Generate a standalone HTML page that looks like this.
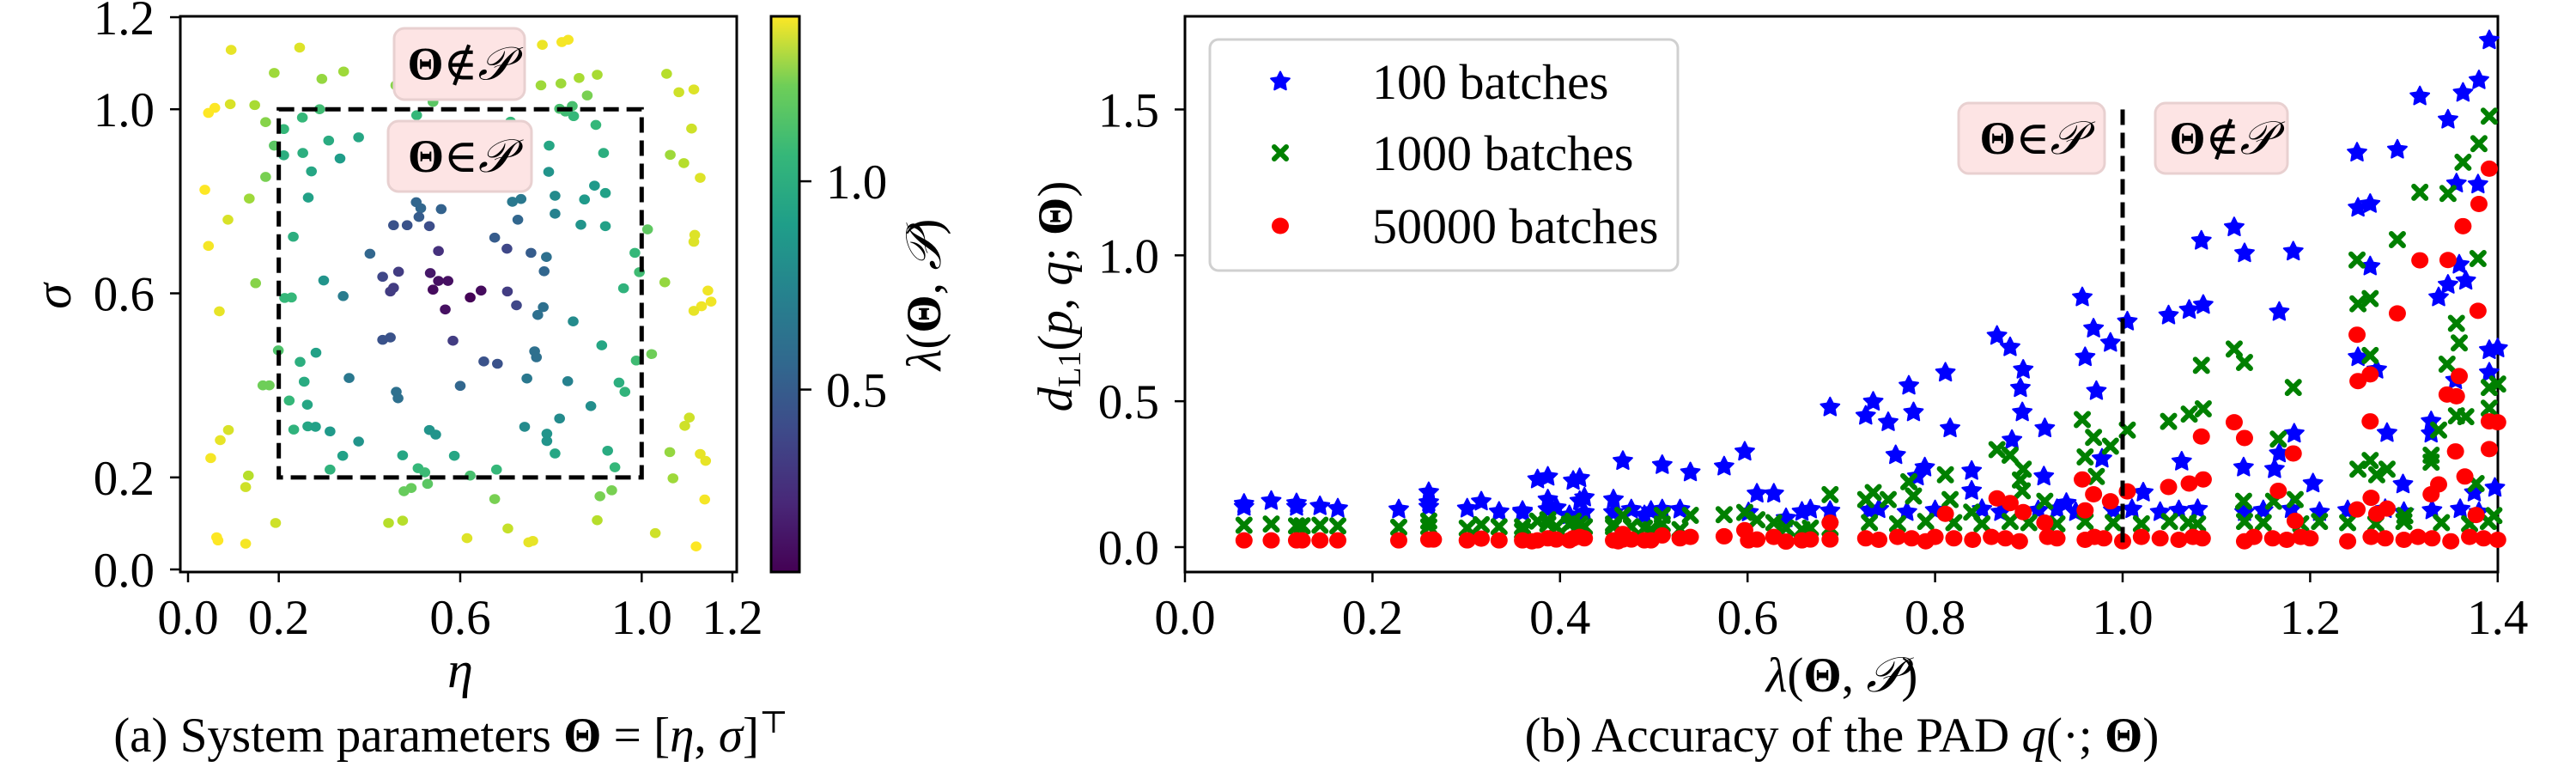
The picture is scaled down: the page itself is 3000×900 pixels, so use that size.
<!DOCTYPE html>
<html><head><meta charset="utf-8"><style>
html,body{margin:0;padding:0;background:#fff;}
svg{display:block;font-family:"Liberation Serif","DejaVu Serif",serif;}
</style></head><body>
<svg id="fig" width="3000" height="900" viewBox="0 0 3000 900" xmlns="http://www.w3.org/2000/svg">
<defs>
<linearGradient id="vir" x1="0" y1="1" x2="0" y2="0">
<stop offset="0" stop-color="#440154"/><stop offset="0.125" stop-color="#482878"/><stop offset="0.25" stop-color="#3e4989"/><stop offset="0.375" stop-color="#31688e"/><stop offset="0.5" stop-color="#26828e"/><stop offset="0.625" stop-color="#1f9e89"/><stop offset="0.75" stop-color="#35b779"/><stop offset="0.875" stop-color="#6ece58"/><stop offset="1" stop-color="#fde725"/>
</linearGradient>
</defs>
<g id="left"></g>
<g id="right"></g>
</svg>
<script>
// ---------- Left panel data ----------
const etaVals = [.095,.246,.19,.295,.343,.576,.648,.458,.54,.781,.824,.838,.778,.822,.862,.902,.88,1.055,1.082,1.115,1.11,1.063,1.093,1.129,1.013,1.117,1.115,1.051,1.146,1.153,1.132,1.115,1.022,1.105,1.095,1.062,1.129,1.141,1.069,1.139,1.03,1.12,.934,.908,.902,.751,.76,.705,.676,.615,.476,.492,.528,.442,.473,.622,.193,.127,.063,.066,.127,.133,.05,.071,.089,.069,.149,.045,.088,.135,.171,.037,.093,.045,.059,.147,.171,.19,.165,.179,.199,
.211,.211,.252,.29,.253,.272,.31,.335,.376,.265,.232,.299,.342,.213,.228,.247,.282,.256,.223,.263,.233,.264,.281,.313,.355,.376,.341,.313,.401,.429,.464,.446,.453,.453,.483,.503,.513,.509,.532,.558,.552,.534,.54,.552,.573,.567,.622,.646,.584,.429,.446,.459,.463,.6,.652,.682,.59,.629,.629,.676,.703,.704,.724,.727,.715,.734,.756,.79,.785,.783,.771,.764,.768,.747,.837,.849,.809,.809,.795,.796,.874,.896,.866,.92,.92,.916,.899,.85,.832,.847,.819,.711,.504,.985,.995,.96,.912,.988,.95,.963,.888,.819,.791,.791,.809,.742,.925,.941,.68,.587,.532,.546,.473,.507,.522];
const sigmaVals = [1.129,1.134,1.079,1.066,1.082,1.146,1.132,1.052,1.016,1.14,1.146,1.151,1.052,1.056,1.068,1.075,1.03,1.077,1.037,1.043,.958,.901,.883,.851,.739,.727,.712,.624,.606,.582,.572,.562,.468,.33,.312,.255,.251,.236,.198,.152,.079,.05,.172,.159,.107,.059,.062,.089,.153,.068,.17,.177,.186,.101,.106,.204,.101,.056,.07,.063,.179,.204,.242,.281,.303,.561,.622,.703,.76,.806,.853,.825,1.011,.992,1.003,1.009,.972,.921,.4,.4,.476,
.957,.9,.982,1.0,.905,.865,.932,.893,.939,.808,.723,.628,.594,.59,.591,.451,.471,.408,.367,.358,.304,.311,.31,.3,.416,.278,.247,.217,.686,.636,.647,.604,.612,.748,.748,.798,.785,.766,.746,.783,.692,.644,.608,.627,.627,.565,.591,.606,.497,.499,.504,.386,.372,.399,.452,.447,.892,.865,.84,.721,.697,.604,.574,.76,.799,.805,.688,.679,.648,.57,.553,.474,.461,.415,.409,.539,.812,.773,.864,.921,.804,.834,.749,.818,.746,.905,.966,.985,.995,1.007,1.001,.973,.987,.688,.646,.611,.487,.454,.406,.386,.355,.328,.295,.279,.252,.31,.258,.222,.217,.247,.303,.293,.248,.22,.211];
const lamVals = [1.35,1.33,1.2,1.18,1.2,1.37,1.35,1.15,1.05,1.36,1.38,1.38,1.2,1.2,1.22,1.22,1.12,1.25,1.3,1.33,1.3,1.2,1.25,1.33,1.06,1.33,1.33,1.18,1.37,1.37,1.37,1.35,1.1,1.3,1.3,1.18,1.35,1.35,1.2,1.38,1.3,1.4,1.12,1.12,1.25,1.35,1.35,1.28,1.12,1.33,1.08,1.08,1.05,1.25,1.25,1.0,1.3,1.38,1.4,1.4,1.3,1.25,1.38,1.35,1.32,1.35,1.15,1.38,1.32,1.2,1.12,1.4,1.32,1.4,1.4,1.22,1.15,1.05,1.1,1.1,1.02,
.95,.9,.95,.98,.9,.85,.88,.8,.85,.82,.9,.75,.62,.95,.95,.9,.82,.88,.95,.85,.92,.85,.82,.78,.6,.75,.82,.92,.5,.35,.3,.3,.3,.4,.4,.5,.5,.45,.38,.48,.25,.15,.1,.12,.12,.12,.07,.1,.3,.4,.4,.55,.55,.5,.4,.4,.8,.65,.65,.45,.35,.3,.35,.5,.6,.6,.45,.55,.5,.55,.55,.55,.55,.6,.65,.7,.7,.65,.75,.85,.78,.78,.75,.82,.82,.9,.95,.95,.98,1.0,1.0,.95,.95,.95,.98,.92,.85,.98,.9,.93,.72,.7,.75,.75,.85,.7,.88,.95,.95,.85,.75,.75,.85,.95,.97];
const leftTicks = [0.0, 0.2, 0.6, 1.0, 1.2];
const leftTickLabels = ["0.0","0.2","0.6","1.0","1.2"];
const cbarTicks = [0.5, 1.0];
const cbarTickLabels = ["0.5","1.0"];

// ---------- Right panel data ----------
const blueLam = [.063,.063,.092,.119,.119,.144,.163,.228,.260,.260,.260,.301,.316,.335,.360,.360,.376,.387,.387,.387,.396,.410,.414,.421,.421,.426,.426,.457,.457,.467,.476,.490,.497,.509,.509,.528,.539,.575,.597,.601,.610,.628,.641,.658,.667,.688,.688,
.726,.734,.750,.758,.772,.777,.781,.789,.811,.816,.839,.839,.866,.880,.882,.894,.891,.893,.917,.916,.940,.957,.960,.969,.987,.972,.978,1.005,1.022,1.049,1.071,1.086,1.084,1.119,1.130,1.182,1.167,1.063,1.129,1.162,1.167,1.183,1.203,1.250,1.293,1.251,1.264,1.264,1.251,1.271,1.282,1.299,1.317,1.347,1.363,1.380,1.391,1.356,1.379,1.359,1.347,1.366,1.337,1.329,1.329,1.391,1.400,1.391,1.397,1.375,1.355,
.73,.74,.77,.80,.85,.87,.91,.93,.95,.99,1.01,1.04,1.06,1.08,1.13,1.15,1.18,1.21,1.24,1.28,1.30,1.33,1.36,1.38];
const blueD = [.148,.138,.158,.138,.150,.140,.132,.129,.138,.188,.153,.132,.156,.121,.124,.119,.232,.241,.163,.129,.135,.109,.227,.236,.158,.170,.119,.163,.119,.295,.129,.109,.124,.281,.129,.129,.256,.276,.327,.119,.183,.183,.099,.121,.129,.479,.124,
.450,.498,.428,.315,.553,.462,.242,.273,.598,.407,.261,.193,.724,.685,.367,.608,.545,.462,.407,.242,.151,.856,.651,.749,.700,.535,.303,.773,.187,.794,.813,.830,1.050,1.096,1.007,1.013,.806,.293,.273,.267,.321,.389,.218,1.352,1.362,1.163,1.176,.962,.651,.608,.391,.215,1.545,1.465,1.557,1.600,1.737,1.246,1.243,.968,.899,.913,.856,.431,.389,.675,.681,.598,.203,.187,.572,
.126,.13,.12,.126,.13,.12,.126,.13,.12,.126,.13,.12,.126,.13,.12,.126,.13,.12,.126,.13,.12,.126,.13,.12];
const greenLam = [.063,.092,.119,.125,.144,.163,.228,.260,.260,.301,.316,.335,.360,.360,.376,.387,.387,.396,.410,.414,.421,.426,.457,.457,.467,.476,.490,.497,.509,.509,.528,.539,.575,.597,.610,.628,.641,.658,.667,.688,.688,
.726,.734,.750,.772,.777,.811,.816,.839,.866,.880,.894,.891,.893,.917,.957,.969,.987,.960,.972,1.005,1.049,1.071,1.086,1.084,1.119,1.130,1.182,1.166,1.184,1.129,1.161,1.250,1.293,1.317,1.347,1.363,1.380,1.391,1.379,1.251,1.264,1.356,1.359,1.264,1.346,1.391,1.400,1.391,1.356,1.366,1.337,1.329,1.329,1.251,1.264,1.271,1.282,1.377,1.301,1.396,
.73,.76,.79,.82,.85,.88,.90,.93,.96,.99,1.02,1.05,1.07,1.08,1.13,1.15,1.19,1.21,1.24,1.27,1.30,1.34,1.37,1.39];
const greenD = [.075,.079,.073,.073,.075,.073,.068,.070,.089,.065,.077,.070,.070,.055,.089,.079,.094,.070,.079,.089,.079,.070,.070,.079,.109,.070,.065,.060,.109,.079,.060,.109,.111,.119,.094,.084,.065,.060,.065,.180,.065,
.163,.187,.163,.224,.175,.248,.163,.120,.334,.315,.267,.230,.193,.157,.437,.376,.346,.309,.242,.401,.431,.456,.474,.623,.679,.633,.547,.370,.163,.157,.157,.984,1.054,1.216,1.212,1.319,1.383,1.477,.989,.834,.852,.767,.700,.657,.627,.547,.559,.476,.450,.447,.401,.315,.291,.267,.297,.248,.267,.218,.108,.108,
.084,.08,.088,.084,.08,.088,.084,.08,.088,.084,.08,.088,.084,.08,.088,.084,.08,.088,.084,.08,.088,.084,.08,.088];
const redLam = [.063,.092,.119,.125,.144,.163,.228,.260,.265,.301,.316,.335,.360,.370,.376,.387,.396,.410,.414,.421,.426,.457,.462,.467,.467,.476,.490,.497,.509,.528,.539,.575,.597,.601,.610,.628,.641,.658,.667,.688,.688,
.811,.866,.880,.894,.917,.957,.969,.987,.960,1.005,1.049,1.071,1.086,1.084,1.119,1.130,1.182,1.166,1.184,1.250,1.293,1.317,1.347,1.363,1.380,1.391,1.379,1.251,1.264,1.359,1.346,1.356,1.264,1.355,1.391,1.400,1.391,1.365,1.337,1.329,1.265,1.250,1.271,1.282,1.377,
.726,.74,.76,.775,.79,.80,.82,.84,.86,.875,.89,.92,.93,.96,.97,.98,1.00,1.02,1.04,1.06,1.075,1.085,1.13,1.14,1.16,1.175,1.19,1.20,1.24,1.265,1.28,1.30,1.315,1.33,1.35,1.37,1.385,1.40];
const redD = [.023,.023,.023,.023,.023,.023,.023,.026,.026,.023,.029,.023,.023,.020,.023,.030,.026,.023,.030,.035,.030,.023,.020,.045,.026,.026,.023,.023,.040,.030,.035,.037,.058,.023,.026,.035,.019,.023,.026,.084,.026,
.114,.167,.151,.120,.084,.232,.181,.157,.126,.191,.206,.218,.232,.379,.428,.374,.321,.193,.090,.728,.801,.983,.984,1.100,1.176,1.297,.810,.569,.592,.586,.523,.517,.431,.328,.431,.428,.336,.242,.215,.181,.169,.129,.114,.132,.110,
.03,.025,.035,.03,.02,.035,.03,.025,.035,.03,.02,.035,.03,.025,.035,.03,.02,.035,.03,.025,.035,.03,.02,.035,.03,.025,.035,.03,.02,.035,.03,.025,.035,.03,.02,.035,.03,.025];
const rightXTicks = [0.0,0.2,0.4,0.6,0.8,1.0,1.2,1.4];
const rightXTickLabels = ["0.0","0.2","0.4","0.6","0.8","1.0","1.2","1.4"];
const rightYTicks = [0.0,0.5,1.0,1.5];
const rightYTickLabels = ["0.0","0.5","1.0","1.5"];
const legendLabels = ["100 batches","1000 batches","50000 batches"];

const NS = "http://www.w3.org/2000/svg";
function mk(tag, attrs, parent, text){
  const e = document.createElementNS(NS, tag);
  for (const k in attrs) e.setAttribute(k, attrs[k]);
  if (text !== undefined) e.textContent = text;
  parent.appendChild(e);
  return e;
}
const VIR = [[68,1,84],[72,40,120],[62,73,137],[49,104,142],[38,130,142],[31,158,137],[53,183,121],[110,206,88],[181,222,43],[253,231,37]];
function viridis(t){
  t = Math.max(0, Math.min(1, t));
  const p = t*(VIR.length-1), i = Math.min(Math.floor(p), VIR.length-2), f = p - i;
  const c = VIR[i].map((v,k)=>Math.round(v + (VIR[i+1][k]-v)*f));
  return `rgb(${c[0]},${c[1]},${c[2]})`;
}
const LMIN = 0.062, LMAX = 1.396;
const FS = 57;

// ---------- LEFT PANEL ----------
const L = document.getElementById('left');
const lx = v => 219 + v*528.3;
const ly = v => 663 - v*535.8;
const LAX = {x0:210, x1:858, y0:19, y1:666};
const lframe = mk('rect', {x:LAX.x0, y:LAX.y0, width:LAX.x1-LAX.x0, height:LAX.y1-LAX.y0, fill:'none', stroke:'#000', 'stroke-width':3}, L);


const lpts = mk('g', {}, L);


for (let i=0;i<etaVals.length;i++){
  const c = mk('ellipse', {cx:lx(etaVals[i]), cy:ly(sigmaVals[i]), rx:6.3, ry:5.8, fill:viridis((lamVals[i]-LMIN)/(LMAX-LMIN))}, lpts);
  
  
}
const rectP = mk('rect', {x:lx(0.2), y:ly(1.0), width:lx(1.0)-lx(0.2), height:ly(0.2)-ly(1.0), fill:'none', stroke:'#000', 'stroke-width':5, 'stroke-dasharray':'18 9'}, L);


leftTicks.forEach((t,i)=>{
  const a = mk('line', {x1:lx(t), x2:lx(t), y1:666, y2:678, stroke:'#000', 'stroke-width':2.5}, L);
  
  
  const b = mk('text', {x:lx(t), y:738, 'font-size':FS, 'text-anchor':'middle'}, L, leftTickLabels[i]);
  
  
  const c = mk('line', {x1:198, x2:210, y1:ly(t), y2:ly(t), stroke:'#000', 'stroke-width':2.5}, L);
  
  
  const d = mk('text', {x:180, y:ly(t)+20, 'font-size':FS, 'text-anchor':'end'}, L, leftTickLabels[i]);
  
  
});
function annBox(parent, x, y, w, h, name, sym){
  const g = mk('g', {}, parent);
  
  
  mk('rect', {x:x, y:y, width:w, height:h, rx:12, fill:'#fde4e4', stroke:'#e8d0d0', 'stroke-width':3}, g);
  const t = mk('text', {x:x+w/2, y:y+h/2+18, 'font-size':54, 'text-anchor':'middle'}, g);
  mk('tspan', {'font-weight':'bold'}, t, 'Θ');
  mk('tspan', {}, t, sym);
  mk('tspan', {'font-style':'italic'}, t, '𝒫');
  return g;
}
annBox(L, 459, 33, 152, 83, 'outside-region-annotation', '∉');
annBox(L, 452, 141, 167, 82, 'inside-region-annotation', '∈');
const sigL = mk('text', {x:0, y:0, 'font-size':60, 'font-style':'italic', 'text-anchor':'middle', transform:'translate(82,345) rotate(-90)'}, L, 'σ');


const etaL = mk('text', {x:536, y:800, 'font-size':60, 'font-style':'italic', 'text-anchor':'middle'}, L, 'η');


const capA = mk('text', {x:525, y:875, 'font-size':FS, 'text-anchor':'middle'}, L);


mk('tspan', {}, capA, '(a) System parameters ');
mk('tspan', {'font-weight':'bold'}, capA, 'Θ');
mk('tspan', {}, capA, ' = [');
mk('tspan', {'font-style':'italic'}, capA, 'η');
mk('tspan', {}, capA, ', ');
mk('tspan', {'font-style':'italic'}, capA, 'σ');
mk('tspan', {}, capA, ']');
mk('tspan', {'font-size':36, dy:-22}, capA, '⊤');
// colorbar
const cb = mk('rect', {x:898, y:19, width:33, height:647, fill:'url(#vir)', stroke:'#000', 'stroke-width':3}, L);


const cy = v => 666 - (v-LMIN)/(LMAX-LMIN)*647;
cbarTicks.forEach((t,i)=>{
  const a = mk('line', {x1:931, x2:945, y1:cy(t), y2:cy(t), stroke:'#000', 'stroke-width':2.5}, L);
  
  
  const b = mk('text', {x:962, y:cy(t)+20, 'font-size':FS}, L, cbarTickLabels[i]);
  
  
});
const cbl = mk('text', {x:0, y:0, 'font-size':FS, 'text-anchor':'middle', transform:'translate(1095,343) rotate(-90)'}, L);


mk('tspan', {'font-style':'italic'}, cbl, 'λ');
mk('tspan', {}, cbl, '(');
mk('tspan', {'font-weight':'bold'}, cbl, 'Θ');
mk('tspan', {}, cbl, ', ');
mk('tspan', {'font-style':'italic'}, cbl, '𝒫');
mk('tspan', {}, cbl, ')');

// ---------- RIGHT PANEL ----------
const R = document.getElementById('right');
const rx = v => 1380 + v*1092;
const ry = v => 637 - v*339.7;
const rframe = mk('rect', {x:1380, y:19, width:1529, height:647, fill:'none', stroke:'#000', 'stroke-width':3}, R);


function starPts(cx, cy, r){
  let s = [];
  for (let k=0;k<10;k++){
    const a = -Math.PI/2 + k*Math.PI/5, rr = k%2 ? r*0.5 : r;
    s.push((cx+rr*Math.cos(a)).toFixed(1)+','+(cy+rr*Math.sin(a)).toFixed(1));
  }
  return s.join(' ');
}
function drawStar(g, x, y){ return mk('polygon', {points:starPts(x,y,11.5), fill:'#0000ff', stroke:'#0000ff', 'stroke-width':2, 'stroke-linejoin':'round'}, g); }
function drawX(g, x, y){ return mk('path', {d:`M${x-7},${y-7}L${x+7},${y+7}M${x-7},${y+7}L${x+7},${y-7}`, stroke:'#008000', 'stroke-width':6, 'stroke-linecap':'round', fill:'none'}, g); }
function drawDot(g, x, y){ return mk('ellipse', {cx:x, cy:y, rx:10, ry:9.5, fill:'#ff0000'}, g); }
const gb = mk('g', {}, R);


blueLam.forEach((v,i)=>{ const s = drawStar(gb, rx(v), ry(blueD[i]));   });
const gg = mk('g', {}, R);


greenLam.forEach((v,i)=>{ const s = drawX(gg, rx(v), ry(greenD[i]));   });
const gr = mk('g', {}, R);


redLam.forEach((v,i)=>{ const s = drawDot(gr, rx(v), ry(redD[i]));   });
const dl = mk('line', {x1:rx(1.0), x2:rx(1.0), y1:ry(1.5), y2:ry(0), stroke:'#000', 'stroke-width':5, 'stroke-dasharray':'18 9'}, R);


annBox(R, 2281, 120, 170, 82, 'inside-region-annotation', '∈');
annBox(R, 2510, 120, 154, 82, 'outside-region-annotation', '∉');
rightXTicks.forEach((t,i)=>{
  const a = mk('line', {x1:rx(t), x2:rx(t), y1:666, y2:678, stroke:'#000', 'stroke-width':2.5}, R);
  
  
  const b = mk('text', {x:rx(t), y:738, 'font-size':FS, 'text-anchor':'middle'}, R, rightXTickLabels[i]);
  
  
});
rightYTicks.forEach((t,i)=>{
  const a = mk('line', {x1:1368, x2:1380, y1:ry(t), y2:ry(t), stroke:'#000', 'stroke-width':2.5}, R);
  
  
  const b = mk('text', {x:1350, y:ry(t)+20, 'font-size':FS, 'text-anchor':'end'}, R, rightYTickLabels[i]);
  
  
});
// legend
const lg = mk('g', {}, R);


mk('rect', {x:1409, y:46, width:545, height:269, rx:10, fill:'#fff', stroke:'#d0d0d0', 'stroke-width':3}, lg);
const legY = [95, 178, 263];
legendLabels.forEach((lab,i)=>{
  const e = mk('g', {}, lg);
  
  
  if (i===0) drawStar(e, 1491, legY[i]);
  if (i===1) drawX(e, 1491, legY[i]);
  if (i===2) drawDot(e, 1491, legY[i]);
  mk('text', {x:1598, y:legY[i]+20, 'font-size':58}, e, lab);
});
const ryl = mk('text', {x:0, y:0, 'font-size':FS, 'text-anchor':'middle', transform:'translate(1248,345) rotate(-90)'}, R);


mk('tspan', {'font-style':'italic'}, ryl, 'd');
mk('tspan', {'font-size':38, dy:10}, ryl, 'L1');
mk('tspan', {dy:-10}, ryl, '(');
mk('tspan', {'font-style':'italic'}, ryl, 'p');
mk('tspan', {}, ryl, ', ');
mk('tspan', {'font-style':'italic'}, ryl, 'q');
mk('tspan', {}, ryl, '; ');
mk('tspan', {'font-weight':'bold'}, ryl, 'Θ');
mk('tspan', {}, ryl, ')');
const rxl = mk('text', {x:2145, y:805, 'font-size':FS, 'text-anchor':'middle'}, R);


mk('tspan', {'font-style':'italic'}, rxl, 'λ');
mk('tspan', {}, rxl, '(');
mk('tspan', {'font-weight':'bold'}, rxl, 'Θ');
mk('tspan', {}, rxl, ', ');
mk('tspan', {'font-style':'italic'}, rxl, '𝒫');
mk('tspan', {}, rxl, ')');
const capB = mk('text', {x:2145, y:875, 'font-size':FS, 'text-anchor':'middle'}, R);


mk('tspan', {}, capB, '(b) Accuracy of the PAD ');
mk('tspan', {'font-style':'italic'}, capB, 'q');
mk('tspan', {}, capB, '(·; ');
mk('tspan', {'font-weight':'bold'}, capB, 'Θ');
mk('tspan', {}, capB, ')');
</script>
</body></html>
